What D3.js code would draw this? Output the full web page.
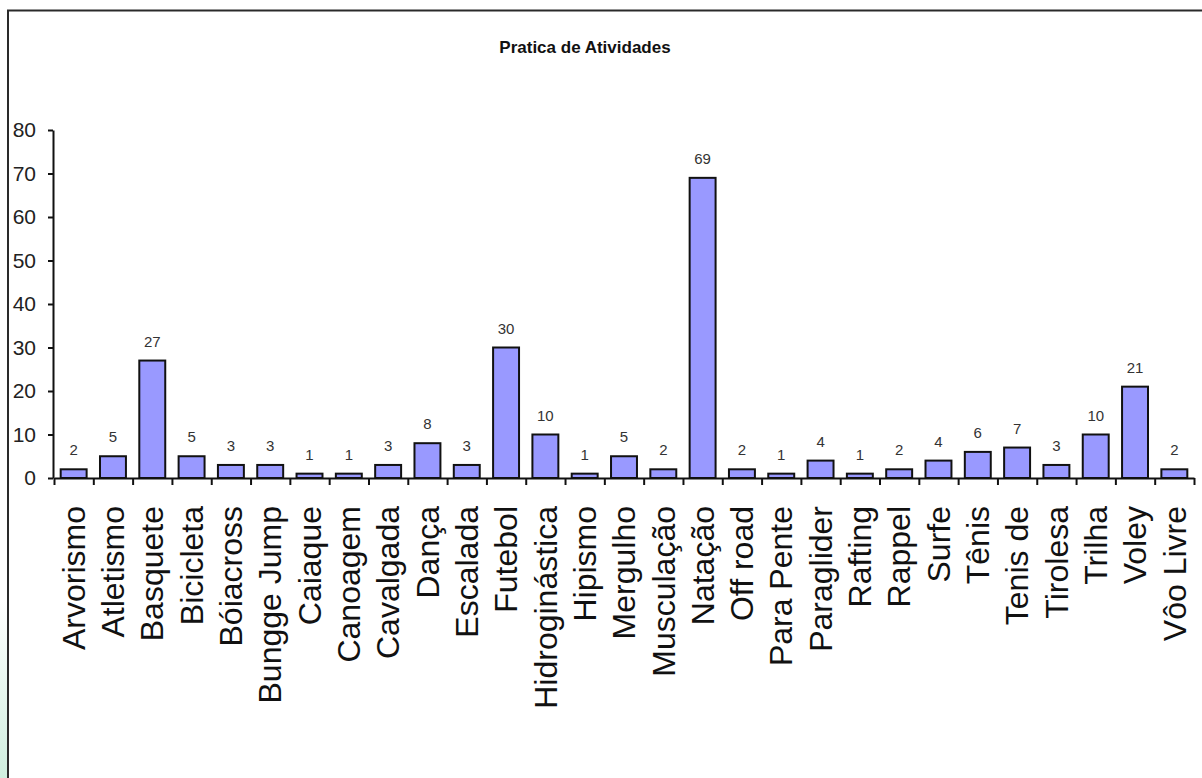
<!DOCTYPE html>
<html>
<head>
<meta charset="utf-8">
<script src="https://cdn.jsdelivr.net/npm/d3@7"></script>
<style>
  body { margin: 0; background: #fff; }
  svg { display: block; font-family: "Liberation Sans", Arial, sans-serif; }
</style>
</head>
<body>
<svg id="chart" width="1202" height="778"></svg>
<script>
// dados do gráfico
const categorias = ["Arvorismo", "Atletismo", "Basquete", "Bicicleta", "Bóiacross", "Bungge Jump",
  "Caiaque", "Canoagem", "Cavalgada", "Dança", "Escalada", "Futebol", "Hidroginástica", "Hipismo",
  "Mergulho", "Musculação", "Natação", "Off road", "Para Pente", "Paraglider", "Rafting", "Rappel",
  "Surfe", "Tênis", "Tenis de", "Tirolesa", "Trilha", "Voley", "Vôo Livre"];
const valores = [2, 5, 27, 5, 3, 3, 1, 1, 3, 8, 3, 30, 10, 1, 5, 2, 69, 2, 1, 4, 1, 2, 4, 6, 7, 3, 10, 21, 2];
const yTicks = [0, 10, 20, 30, 40, 50, 60, 70, 80];
const titulo = "Pratica de Atividades";

const svg = d3.select('#chart');

// faixa verde clara no canto esquerdo
const grad = svg.append('defs').append('linearGradient')
  .attr('id', 'verde').attr('x1', 0).attr('y1', 0).attr('x2', 0).attr('y2', 1);
grad.append('stop').attr('offset', '0%').attr('stop-color', '#ffffff');
grad.append('stop').attr('offset', '100%').attr('stop-color', '#cfeede');
svg.append('rect')
  .attr('x', 0).attr('y', 600).attr('width', 7).attr('height', 178)
  .attr('fill', 'url(#verde)');

// moldura
svg.append('rect')
  .attr('x', 8).attr('y', 10.5)
  .attr('width', 1300).attr('height', 900)
  .attr('fill', 'none')
  .attr('stroke', '#2a2a2a')
  .attr('stroke-width', 2);

// titulo
svg.append('text')
  .attr('x', 585).attr('y', 53)
  .attr('text-anchor', 'middle')
  .attr('font-size', 17)
  .attr('font-weight', 'bold')
  .attr('fill', '#111')
  .text(titulo);

const esq = 54, dir = 1194, topo = 130, base = 478;

const x = d3.scaleBand()
  .domain(categorias)
  .range([esq, dir])
  .paddingInner(0.34)
  .paddingOuter(0.17);

// escala para os tracinhos entre as categorias
const xIdx = d3.scaleLinear().domain([0, categorias.length]).range([esq, dir]);

const y = d3.scaleLinear().domain([0, 80]).range([base, topo]);

// eixo y
const gy = svg.append('g')
  .attr('transform', `translate(${esq - 1},0)`)
  .call(d3.axisLeft(y).tickValues(yTicks).tickSize(5).tickPadding(12).tickSizeOuter(0));
gy.select('.domain').attr('stroke', '#111').attr('stroke-width', 2);
gy.selectAll('.tick line').attr('stroke', '#111').attr('stroke-width', 2);
gy.selectAll('.tick text')
  .attr('font-size', 21)
  .attr('font-family', '"Liberation Sans", Arial, sans-serif')
  .attr('fill', '#222');

// barras
svg.selectAll('rect.barra')
  .data(valores)
  .join('rect')
  .attr('class', 'barra')
  .attr('x', (d, i) => x(categorias[i]))
  .attr('y', d => y(d))
  .attr('width', x.bandwidth())
  .attr('height', d => y(0) - y(d))
  .attr('fill', '#9999ff')
  .attr('stroke', '#111')
  .attr('stroke-width', 2);

// eixo x
const gx = svg.append('g')
  .attr('transform', `translate(0,${base})`)
  .call(d3.axisBottom(xIdx).tickValues(d3.range(categorias.length + 1)).tickFormat('').tickSize(7).tickSizeOuter(0));
gx.select('.domain').attr('stroke', '#111').attr('stroke-width', 2);
gx.selectAll('.tick line').attr('stroke', '#111').attr('stroke-width', 2);

// rótulos das categorias
svg.selectAll('text.cat')
  .data(categorias)
  .join('text')
  .attr('class', 'cat')
  .attr('transform', d => `translate(${x(d) + x.bandwidth() / 2},${base + 28}) rotate(-90)`)
  .attr('dy', '0.35em')
  .attr('text-anchor', 'end')
  .attr('font-size', 32)
  .attr('fill', '#111')
  .text(d => d);

// valores acima das barras
svg.selectAll('text.valor')
  .data(valores)
  .join('text')
  .attr('class', 'valor')
  .attr('x', (d, i) => x(categorias[i]) + x.bandwidth() / 2)
  .attr('y', d => y(d) - 14)
  .attr('text-anchor', 'middle')
  .attr('font-size', 15)
  .attr('fill', '#333')
  .text(d => d);
</script>
</body>
</html>
